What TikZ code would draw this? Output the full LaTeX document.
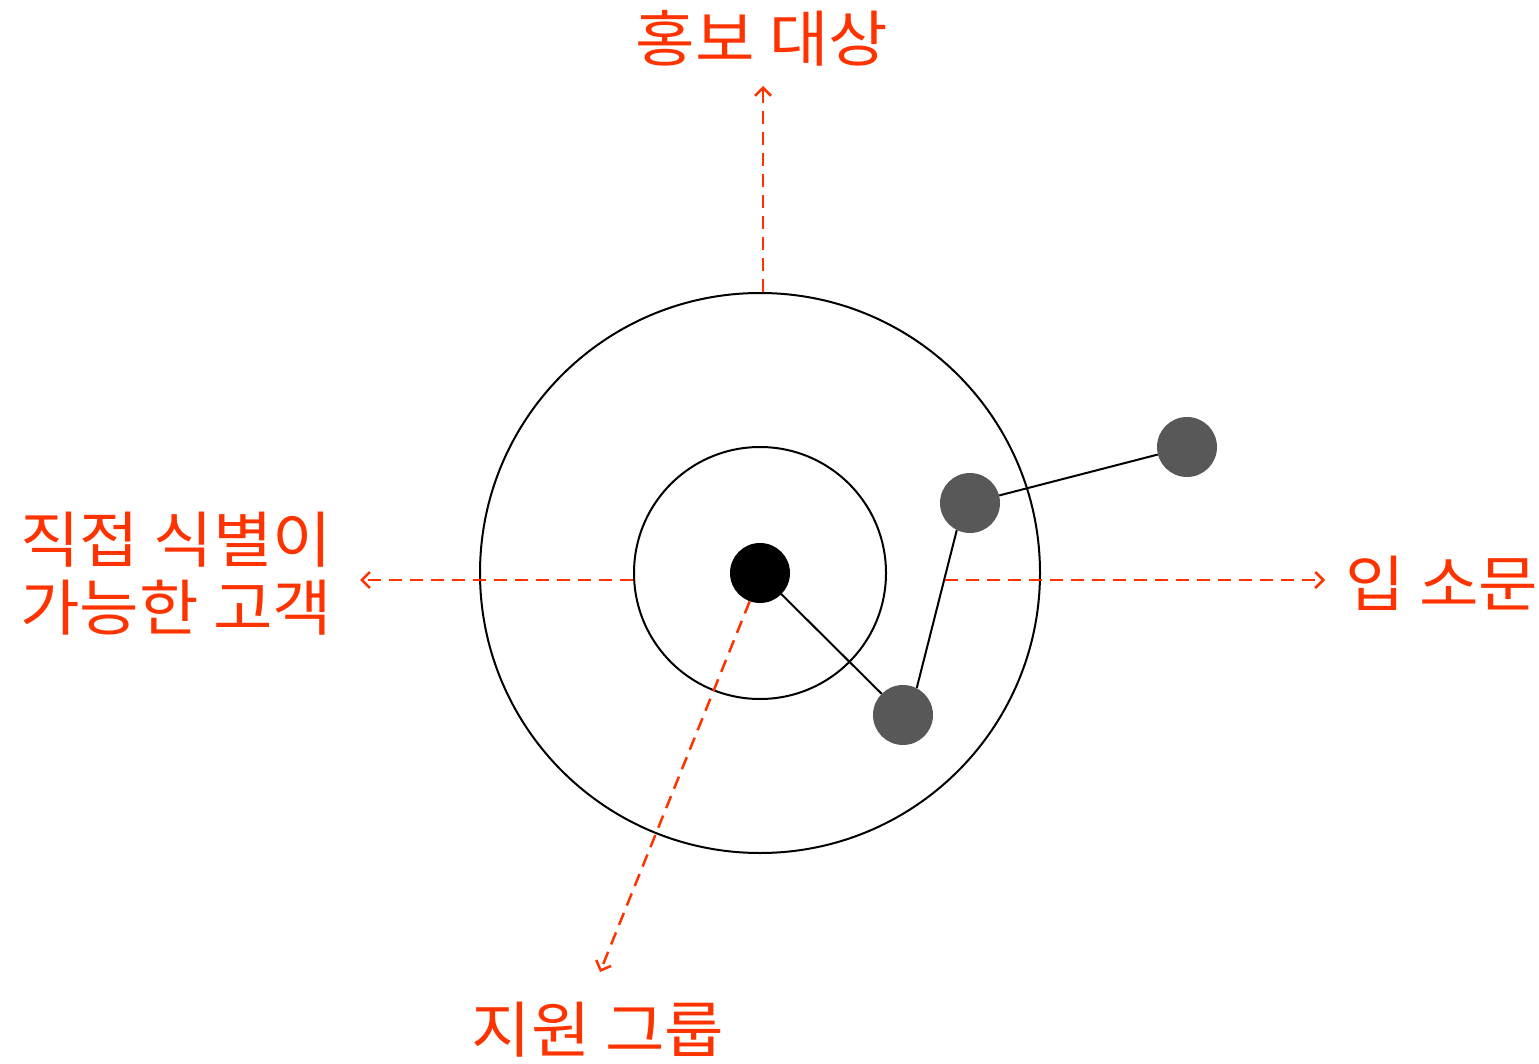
\documentclass[tikz,border=0pt]{standalone}
\usepackage{fontspec}
\newfontfamily\kr[FakeStretch=1.06]{Noto Sans CJK KR}
\usetikzlibrary{arrows.meta}
\definecolor{accent}{HTML}{FF3300}
\definecolor{dotgray}{HTML}{585858}
\begin{document}
\begin{tikzpicture}[x=1pt,y=-1pt,
  ring/.style={circle,draw=black,line width=2pt,inner sep=0pt},
  member/.style={circle,fill=dotgray,inner sep=0pt,minimum size=60pt},
  link/.style={draw=black,line width=2pt},
  flow/.style={draw=accent,line width=2.5pt,dash pattern=on 13pt off 8pt,
    -{Straight Barb[length=8pt,width=16pt,line width=2.5pt]}},
  lbl/.style={text=accent,font=\kr\fontsize{61}{68}\selectfont,inner sep=0pt,align=left}]
\useasboundingbox (0,0) rectangle (1539,1064);
\node[ring,minimum size=560pt] (outer) at (760,573) {};
\node[ring,minimum size=252pt] (inner) at (760,573) {};
\node[circle,fill=black,inner sep=0pt,minimum size=60pt] (hub) at (760,573) {};
\node[member] (m1) at (903,715) {};
\node[member] (m2) at (970,503) {};
\node[member] (m3) at (1187,447) {};
\draw[link] (hub) -- (m1);
\draw[link] (m1.63) -- (m2.244);
\draw[link] (m2) -- (m3);

\node[lbl,anchor=center] (top) at (762,38) {홍보 대상};
\node[lbl,anchor=west] (left) at (20,574) {직접 식별이\\가능한 고객};
\node[lbl,anchor=west] (right) at (1345,583) {입 소문};
\node[lbl,anchor=center] (bottom) at (598,1030) {지원 그룹};

\coordinate (topend) at (763,86);
\coordinate (leftend) at (360,580);
\coordinate (rightstart) at (945,580);
\coordinate (rightend) at (1325,580);
\coordinate (bottomend) at (600,972);
\draw[flow] (outer.north) ++(3,0) -- (topend);
\draw[flow] (inner.west |- leftend) -- (leftend);
\draw[flow] (rightstart) -- (rightend);
\draw[flow] (hub.-110) -- (bottomend);
\end{tikzpicture}
\end{document}
